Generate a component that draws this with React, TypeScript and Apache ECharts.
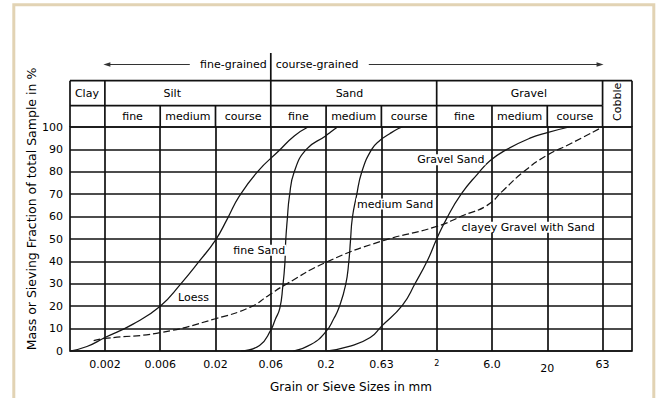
import React, { useEffect, useRef } from 'react';
import * as echarts from 'echarts';

// ---- data ----
const sieveSizes = [0.002, 0.006, 0.02, 0.06, 0.2, 0.63, 2, 6, 20, 63];
const sieveLabels = ['0.002', '0.006', '0.02', '0.06', '0.2', '0.63', '2', '6.0', '20', '63'];
const sizeRange = [0.001, 116];
const percentRange = [0, 100];
const percentStep = 10;

const loess: [number, number][] = [
  [0.001, 0], [0.0014, 2], [0.002, 6], [0.0035, 12], [0.006, 20], [0.0094, 30],
  [0.014, 40], [0.02, 49.5], [0.0253, 59], [0.032, 69], [0.046, 80], [0.072, 89.5],
  [0.1, 96], [0.135, 100],
];
const fineSand: [number, number][] = [
  [0.033, 0], [0.048, 2.5], [0.06, 9.3], [0.066, 14], [0.073, 19], [0.078, 29],
  [0.0815, 39], [0.083, 49], [0.086, 59], [0.09, 69], [0.1, 80], [0.13, 90],
  [0.198, 96], [0.22, 97.8], [0.25, 99.8],
];
const mediumSand: [number, number][] = [
  [0.098, 0], [0.145, 3], [0.198, 8.5], [0.235, 14.5], [0.262, 19.5], [0.3, 29.5],
  [0.32, 39.5], [0.332, 49.5], [0.345, 59.5], [0.375, 69], [0.42, 80], [0.515, 90],
  [0.61, 94], [0.75, 97], [0.9, 99.3], [0.98, 100],
];
const gravelSand: [number, number][] = [
  [0.2, 0], [0.33, 2.2], [0.5, 6], [0.63, 11], [0.98, 20.5], [1.27, 30], [1.67, 41],
  [2, 50], [2.43, 59], [3.25, 70], [4.5, 79], [5.8, 85], [8.3, 90], [13.7, 95],
  [20, 97.5], [31.5, 100],
];
const clayeyGravelWithSand: [number, number][] = [
  [0.0016, 4.6], [0.002, 5.6], [0.006, 8.2], [0.02, 14.4], [0.04, 19.6], [0.057, 24.7],
  [0.081, 29.4], [0.2, 39.6], [0.63, 49], [2, 55.6], [3.46, 60.7], [5.45, 65],
  [7.7, 71.8], [11.8, 79.8], [19.6, 87.2], [32, 92.4], [63, 100],
];

const curveLabelTexts = ['Loess', 'fine Sand', 'medium Sand', 'Gravel Sand', 'clayey Gravel with Sand'];
const curveLabelSizes = [0.0124, 0.0477, 0.84, 2.65, 13.2];
const curveLabelPercents = [24, 45, 65.6, 85.4, 55.2];

const mainClasses = ['Clay', 'Silt', 'Sand', 'Gravel', 'Cobble'];
const mainBounds = [0.001, 0.002, 0.06, 2, 63, 116];
const mainLabelAt = [0.0014, 0.0078, 0.325, 13.4, 85];
const subClasses = ['fine', 'medium', 'course'];

const FONT = 'DejaVu Sans';
const INK = '#000';
const GRID = '#111';

function toAxis(mm: number): number {
  const s = sieveSizes;
  const n = s.length;
  if (mm <= s[0]) return 1 + Math.log(mm / s[0]) / Math.log(s[1] / s[0]);
  if (mm >= s[n - 1]) return n + Math.log(mm / s[n - 1]) / Math.log(s[n - 1] / s[n - 2]);
  for (let i = 0; i < n - 1; i++) {
    if (mm <= s[i + 1]) return i + 1 + Math.log(mm / s[i]) / Math.log(s[i + 1] / s[i]);
  }
  return n;
}

export default function App() {
  const ref = useRef<HTMLDivElement>(null);
  useEffect(() => {
    const chart = echarts.init(ref.current!, null, { renderer: 'svg', width: 660, height: 398 });
    const xMin = toAxis(sizeRange[0]);
    const xMax = toAxis(sizeRange[1]);
    const tickPos = sieveSizes.map(toAxis);

    const mk = (name: string, data: [number, number][], dashed: boolean, extra: any = {}) => ({
      type: 'line',
      name,
      data: data.map(([s, p]) => [toAxis(s), p]),
      showSymbol: false,
      symbol: 'none',
      smooth: 0.5,
      silent: true,
      z: 4,
      lineStyle: { color: '#151515', width: 1.25, type: dashed ? [7, 3] : 'solid' },
      ...extra,
    });

    chart.setOption({
      animation: false,
      backgroundColor: '#fff',
      grid: {
        left: 70, right: 28, top: 127, bottom: 45,
        show: true, borderColor: GRID, borderWidth: 1.7, containLabel: false,
      },
      xAxis: {
        type: 'value',
        min: xMin,
        max: xMax,
        name: 'Grain or Sieve Sizes in mm',
        nameLocation: 'middle',
        nameGap: 30,
        nameTextStyle: { fontFamily: FONT, fontSize: 12, color: INK },
        axisLine: { show: false },
        axisTick: { show: false },
        splitLine: { show: false },
        axisLabel: {
          customValues: tickPos,
          margin: 8,
          fontFamily: FONT,
          fontSize: 11,
          color: INK,
          formatter: (v: number) => {
            const i = tickPos.findIndex((t) => Math.abs(t - v) < 1e-6);
            if (i < 0) return '';
            const lab = sieveLabels[i];
            if (lab === '2') return '{s|2}';
            if (lab === '20') return '{l|20}';
            return lab;
          },
          rich: {
            s: { fontSize: 8, fontFamily: FONT, color: INK, padding: [0, 0, 4, 0] },
            l: { fontSize: 11, fontFamily: FONT, color: INK, padding: [4, 0, 0, 0] },
          },
        },
      },
      yAxis: {
        type: 'value',
        min: percentRange[0],
        max: percentRange[1],
        interval: percentStep,
        axisLine: { show: false },
        axisTick: { show: false },
        splitLine: { show: true, lineStyle: { color: GRID, width: 1.7 } },
        axisLabel: { margin: 7, fontFamily: FONT, fontSize: 11, color: INK },
      },
      series: [
        mk('Loess', loess, false, {
          markLine: {
            silent: true,
            symbol: ['none', 'none'],
            label: { show: false },
            lineStyle: { color: GRID, width: 1.7, type: 'solid' },
            data: tickPos.map((p) => ({ xAxis: p })),
            z: 2,
          },
        }),
        mk('fine Sand', fineSand, false),
        mk('medium Sand', mediumSand, false),
        mk('Gravel Sand', gravelSand, false),
        mk('clayey Gravel with Sand', clayeyGravelWithSand, true),
      ],
    });

    const px = (mm: number) => (chart.convertToPixel({ gridIndex: 0 }, [toAxis(mm), 0]) as number[])[0];
    const py = (pct: number) => (chart.convertToPixel({ gridIndex: 0 }, [xMin, pct]) as number[])[1];

    const g: any[] = [];
    const line = (x1: number, y1: number, x2: number, y2: number, w = 1.7, color = GRID) =>
      g.push({ type: 'line', silent: true, z: 10, shape: { x1, y1, x2, y2 }, style: { stroke: color, lineWidth: w } });
    const text = (t: string, x: number, y: number, opts: any = {}) =>
      g.push({
        type: 'text', silent: true, z: 12, x, y, rotation: opts.rotation || 0,
        style: {
          text: t, fill: INK, fontFamily: FONT, fontSize: opts.fontSize || 11,
          align: opts.align || 'center', verticalAlign: 'middle',
          backgroundColor: opts.bg, padding: opts.bg ? [0, 1] : 0,
        },
      });

    // frame
    g.push({ type: 'rect', silent: true, z: 1, shape: { x: 13.8, y: 4.7, width: 640, height: 430 }, style: { fill: 'none', stroke: '#e2d3b4', lineWidth: 3 } });

    const yTop = 80.7;
    const yMid = 105.7;
    const yBot = py(100);
    const xL = px(sizeRange[0]);
    const xR = px(sizeRange[1]);

    line(xL, yTop, xR, yTop);
    line(xL, yTop, xL, yBot);
    line(xR, yTop, xR, yBot);
    line(xL, yMid, px(63), yMid);
    mainBounds.slice(1, 5).forEach((b) => line(px(b), yTop, px(b), yMid));
    sieveSizes.forEach((s) => line(px(s), yMid, px(s), yBot));

    // main class labels
    mainClasses.forEach((c, i) => {
      if (c === 'Cobble') {
        text(c, px(mainLabelAt[i]), (yTop + yBot) / 2 - 2, { rotation: Math.PI / 2 });
      } else {
        text(c, px(mainLabelAt[i]), (yTop + yMid) / 2 + 0.5);
      }
    });
    // sub class labels
    for (let k = 0; k < 9; k++) {
      const a = px(sieveSizes[k]);
      const b = px(sieveSizes[k + 1]);
      text(subClasses[k % 3], (a + b) / 2, (yMid + yBot) / 2);
    }

    // fine / coarse grained header
    const sep = px(0.06);
    const yArr = 64.5;
    line(sep, 53, sep, yTop);
    text('fine-grained', sep - 4, yArr, { align: 'right' });
    text('course-grained', sep + 5, yArr, { align: 'left' });
    const aL = px(0.002) - 1.5;
    const aR = px(63) + 1;
    line(aL + 4, yArr, sep - 81, yArr, 1.2, '#333');
    g.push({ type: 'polygon', silent: true, z: 10, shape: { points: [[aL, yArr], [aL + 7, yArr - 2.2], [aL + 7, yArr + 2.2]] }, style: { fill: '#333' } });
    line(sep + 98, yArr, aR - 4, yArr, 1.2, '#333');
    g.push({ type: 'polygon', silent: true, z: 10, shape: { points: [[aR, yArr], [aR - 7, yArr - 2.2], [aR - 7, yArr + 2.2]] }, style: { fill: '#333' } });

    // y title
    text('Mass or Sieving Fraction of total Sample in %', 31, 209, { rotation: Math.PI / 2, fontSize: 12.5 });

    // curve labels
    curveLabelTexts.forEach((t, i) => {
      const p = chart.convertToPixel({ gridIndex: 0 }, [toAxis(curveLabelSizes[i]), curveLabelPercents[i]]) as number[];
      text(t, p[0], p[1], { bg: '#fff' });
    });

    chart.setOption({ graphic: g });
    return () => chart.dispose();
  }, []);

  return (
    <div style={{ position: 'fixed', left: 0, top: 0, width: 660, height: 398, background: '#fff' }}>
      <div ref={ref} style={{ width: 660, height: 398 }} />
    </div>
  );
}
